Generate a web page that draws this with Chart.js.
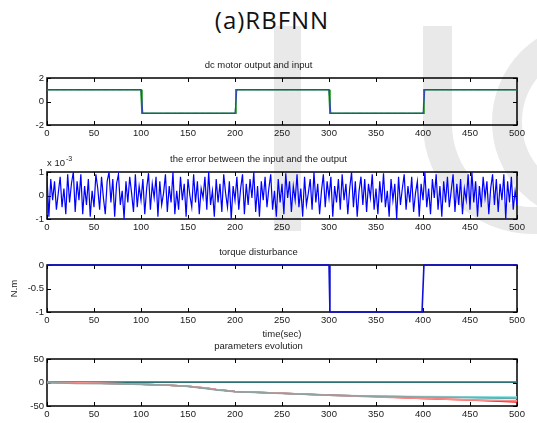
<!DOCTYPE html>
<html>
<head>
<meta charset="utf-8">
<title>(a)RBFNN</title>
<script src="https://cdn.jsdelivr.net/npm/chart.js@4.4.1/dist/chart.umd.min.js"></script>
<style>
    html, body { margin: 0; padding: 0; background: #fff; }
    #page { position: relative; width: 537px; height: 423px; overflow: hidden; background: #fff; }
    .mark { position: absolute; background: #e9e9e9; }
    .hook { position: absolute; box-sizing: border-box; border-left: 29px solid #e9e9e9; border-bottom: 27px solid #e9e9e9; border-bottom-left-radius: 110px; }
    .ring { position: absolute; box-sizing: border-box; border: 30px solid #e9e9e9; border-radius: 50%; }
    canvas { position: absolute; left: 0; }
    #heading {
        position: absolute; left: 0; top: 3px; width: 537px; padding-left: 7px; box-sizing: border-box;
        text-align: center; font-family: 'Open Sans', sans-serif; font-size: 24px;
        letter-spacing: 1px; color: #111; line-height: normal;
    }
</style>
</head>
<body>
<div id="page">
    <!-- faint watermark behind the axes -->
    <div class="mark" style="left:274px; top:26px; width:27px; height:205px;"></div>
    <div class="hook" style="left:423px; top:26px; width:160px; height:208px;"></div>
    <div class="ring" style="left:492px; top:22px; width:200px; height:200px;"></div>

    <div id="heading">(a)RBFNN</div>
    <canvas id="motorChart" width="537" height="80" style="top:60px"></canvas>
    <canvas id="errorChart" width="537" height="80" style="top:154px"></canvas>
    <canvas id="torqueChart" width="537" height="93" style="top:247px"></canvas>
    <canvas id="paramChart" width="537" height="80" style="top:341px"></canvas>
</div>

<script>
// ========================================
// Data
// ========================================

// dc motor output and input
const motorTime = [0, 100, 101, 200, 201, 300, 301, 400, 401, 500];
const motorInput = [1, 1, -1, -1, 1, 1, -1, -1, 1, 1];
const motorOutTime = [0, 100, 102, 200, 202, 300, 302, 400, 402, 500];
const motorOutput = [1, 1, -1, -1, 1, 1, -1, -1, 1, 1];

// error between input and output (x 10^-3), one sample every 2 s
const errorStep = 2;
const errorValues = [
    0.8, -0.9, 0.7, -0.2, 0.6, -0.6, 0.1, 0.8, -0.5, 0.3,
    -0.8, 0.9, -0.3, 0.5, 1.0, -0.7, 0.6, -0.2, 0.9, -0.8,
    0.4, -0.4, 0.7, -0.9, 0.2, -0.5, 0.9, 0.3, -0.6, 0.8,
    -0.1, -0.8, 0.6, 1.0, -0.3, 0.7, -0.9, 0.5, 0.9, -0.4,
    0.2, -1.0, 0.6, -0.3, 0.8, 0.1, -0.7, 0.9, -0.5, 0.4,
    -0.2, 0.7, -0.8, 0.3, 0.95, -0.6, 0.5, -0.1, 0.8, -0.9,
    0.6, -0.4, 0.1, 0.9, -0.7, 0.4, -0.3, 1.0, -0.8, 0.2,
    -0.6, 0.8, -0.2, 0.5, -0.9, 0.7, 0.0, -0.5, 0.9, -0.3,
    0.6, -0.8, 0.3, -0.1, 0.8, -0.6, 1.0, -0.4, 0.2, -0.9,
    0.7, -0.3, 0.5, -0.7, 0.9, 0.1, -0.5, 0.6, -1.0, 0.4,
    -0.2, 0.8, -0.6, 0.3, 0.9, -0.8, 0.5, -0.4, 0.7, -0.1,
    1.0, -0.7, 0.4, -0.9, 0.6, -0.2, 0.8, -0.5, 0.3, 0.9,
    -0.6, 0.2, -0.9, 0.7, -0.3, 0.5, -0.8, 0.95, -0.1, 0.6,
    -0.7, 0.4, -0.2, 0.9, -0.5, 0.3, -0.9, 0.8, -0.4, 0.1,
    0.7, -0.6, 1.0, -0.3, 0.5, -0.8, 0.2, 0.9, -0.5, 0.6,
    -0.1, 0.8, -0.9, 0.4, -0.3, 0.7, -0.6, 0.9, -0.2, 0.5,
    -0.8, 0.3, 1.0, -0.5, 0.6, -0.9, 0.2, 0.8, -0.4, 0.7,
    -0.7, 0.5, -0.1, 0.9, -0.6, 0.3, -0.8, 0.6, -0.3, 0.95,
    -0.5, 0.2, -0.9, 0.7, -0.2, 0.5, -1.0, 0.8, -0.4, 0.3,
    0.9, -0.6, 0.4, -0.3, 0.8, -0.7, 0.1, 0.6, -0.9, 0.5,
    -0.2, 1.0, -0.5, 0.3, -0.8, 0.7, -0.1, 0.9, -0.6, 0.4,
    -0.9, 0.6, -0.3, 0.8, -0.5, 0.2, 0.9, -0.7, 0.5, -0.4,
    0.7, -0.8, 0.3, -0.2, 0.9, -0.6, 1.0, -0.3, 0.6, -0.9,
    0.4, -0.5, 0.8, -0.1, 0.6, -0.8, 0.3, 0.9, -0.4, 0.7,
    -0.7, 0.5, -0.2, 0.9, -1.0, 0.6, -0.3, 0.8, -0.6, 0.2,
    -0.4
];

// torque disturbance (N.m)
const torqueTime = [0, 300, 301, 399, 401, 500];
const torqueValues = [0, 0, -1, -1, 0, 0];

// parameters evolution
const paramTime = [0, 30, 70, 100, 130, 150, 170, 180, 200, 250, 300, 350, 400, 450, 500];
const paramFlat = [1, 1, 1, 1, 1, 1, 1, 1, 1, 1, 1, 1, 1, 1, 1];
const paramGray = [0, -2, -2.5, -4, -6, -8.5, -13, -16, -19.5, -23.5, -27, -29.5, -31, -32, -33];
const paramLightRed = [0, -0.5, -2, -3.5, -6, -8, -12, -15, -19, -23, -27, -31, -34, -37, -39];
const paramLightCyan = [0, -0.5, -2, -3.5, -6, -8, -12, -15, -19, -23, -27, -29, -30, -30.5, -31];
const paramRed = [0, -0.5, -2, -3.5, -6, -8, -12, -15, -19, -23, -26.5, -30, -34, -37, -41.5];
const paramCyan = [0, -0.5, -2, -3.5, -6, -8, -12, -15, -19, -23, -27, -29.5, -31, -32, -34];

const timeMin = 0;
const timeMax = 500;
const timeStep = 50;

// ========================================
// Helpers
// ========================================
const FONT = "'Liberation Sans', Arial, sans-serif";
const TEXT = '#1a1a1a';

function pairs(xs, ys) {
    return ys.map((y, i) => ({ x: xs[i], y: y }));
}

function line(label, xs, ys, color, extra) {
    return Object.assign({
        label: label,
        data: pairs(xs, ys),
        borderColor: color,
        borderWidth: 1.2,
        pointRadius: 0,
        tension: 0,
        fill: false
    }, extra || {});
}

// MATLAB style box with inward ticks, plus an optional "x 10^n" note
const matlabAxes = {
    id: 'matlabAxes',
    beforeDatasetsDraw(chart) {
        const { ctx, chartArea: a, scales } = chart;
        ctx.save();
        ctx.strokeStyle = '#000';
        ctx.lineWidth = 1;
        ctx.beginPath();
        scales.x.ticks.forEach(t => {
            const px = Math.round(scales.x.getPixelForValue(t.value)) + 0.5;
            ctx.moveTo(px, a.top); ctx.lineTo(px, a.top + 4);
            ctx.moveTo(px, a.bottom); ctx.lineTo(px, a.bottom - 4);
        });
        scales.y.ticks.forEach(t => {
            const py = Math.round(scales.y.getPixelForValue(t.value)) + 0.5;
            ctx.moveTo(a.left, py); ctx.lineTo(a.left + 4, py);
            ctx.moveTo(a.right, py); ctx.lineTo(a.right - 4, py);
        });
        ctx.stroke();
        ctx.lineWidth = 1.5;
        ctx.strokeRect(a.left, a.top, a.right - a.left, a.bottom - a.top);
        ctx.restore();
    },
    afterDraw(chart, args, opts) {
        if (!opts.exponent) return;
        const { ctx, chartArea: a } = chart;
        ctx.save();
        ctx.fillStyle = TEXT;
        ctx.textBaseline = 'alphabetic';
        ctx.font = '9.5px ' + FONT;
        ctx.fillText('x 10', a.left, a.top - 6);
        const w = ctx.measureText('x 10').width;
        ctx.font = '7px ' + FONT;
        ctx.fillText(opts.exponent, a.left + w + 1, a.top - 11);
        ctx.restore();
    }
};

function makeChart(id, datasets, title, yMin, yMax, yStep, extra) {
    extra = extra || {};
    const ctx = document.getElementById(id);
    return new Chart(ctx, {
        type: 'line',
        data: { datasets: datasets },
        plugins: [matlabAxes],
        options: {
            responsive: false,
            animation: false,
            events: [],
            layout: { padding: { left: 0, right: 20, top: 0, bottom: 0 } },
            plugins: {
                legend: { display: false },
                tooltip: { enabled: false },
                title: {
                    display: true,
                    text: title,
                    color: TEXT,
                    font: { family: FONT, size: 9.5, weight: 'normal', lineHeight: 1.2 },
                    padding: { top: 0, bottom: 6.6 }
                },
                matlabAxes: { exponent: extra.exponent || null }
            },
            scales: {
                x: {
                    type: 'linear',
                    min: timeMin,
                    max: timeMax,
                    grid: { display: false, drawTicks: false },
                    border: { display: false },
                    ticks: {
                        stepSize: timeStep,
                        autoSkip: false,
                        maxRotation: 0,
                        padding: 3,
                        color: TEXT,
                        font: { family: FONT, size: 9.5 }
                    },
                    title: extra.xTitle ? {
                        display: true,
                        text: extra.xTitle,
                        color: TEXT,
                        font: { family: FONT, size: 9.5, lineHeight: 1.2 },
                        padding: { top: 1, bottom: 0 }
                    } : { display: false },
                    afterFit: scale => { scale.height = extra.xHeight || 15; }
                },
                y: {
                    type: 'linear',
                    min: yMin,
                    max: yMax,
                    grid: { display: false, drawTicks: false },
                    border: { display: false },
                    ticks: {
                        stepSize: yStep,
                        padding: 3,
                        color: TEXT,
                        font: { family: FONT, size: 9.5 },
                        callback: value => String(value)
                    },
                    title: extra.yTitle ? {
                        display: true,
                        text: extra.yTitle,
                        color: TEXT,
                        font: { family: FONT, size: 9.5, lineHeight: 1.2 },
                        padding: { top: 8.3, bottom: 0 }
                    } : { display: false },
                    afterFit: scale => { scale.width = 47; }
                }
            }
        }
    });
}

// ========================================
// Build the four panels
// ========================================
document.addEventListener('DOMContentLoaded', () => {
    makeChart('motorChart', [
        line('output', motorOutTime, motorOutput, '#3040c0', { borderWidth: 1 }),
        line('input', motorTime, motorInput, '#0f8f0f', { borderWidth: 1.6 }),
        line('input dash', motorTime, motorInput, '#7fcf7f', { borderWidth: 0.8, borderDash: [6, 3, 2, 3] })
    ], 'dc motor output and input', -2, 2, 2);

    const errorTime = errorValues.map((v, i) => i * errorStep);
    makeChart('errorChart', [
        line('error', errorTime, errorValues, '#0000ff', { borderWidth: 1.2 })
    ], 'the error between the input and the output', -1, 1, 1, { exponent: '-3' });

    makeChart('torqueChart', [
        line('torque', torqueTime, torqueValues, '#1010d8', { borderWidth: 1.6, clip: 3 })
    ], 'torque disturbance', -1, 0, 0.5, { xTitle: 'time(sec)', yTitle: 'N.m', xHeight: 28 });

    makeChart('paramChart', [
        line('p3', paramTime, paramGray, '#8fa3a3', { borderWidth: 1.6 }),
        line('p4', paramTime, paramLightRed, '#ff8a8a', { borderWidth: 1.6 }),
        line('p5', paramTime, paramLightCyan, '#80e0e0', { borderWidth: 1.6 }),
        line('p2', paramTime, paramRed, '#ff0000', { borderWidth: 1.5 }),
        line('p1', paramTime, paramCyan, '#00bcbc', { borderWidth: 1.5 }),
        line('p0', paramTime, paramFlat, '#2a7272', { borderWidth: 1.8 })
    ], 'parameters evolution', -50, 50, 50);
});
</script>
</body>
</html>
